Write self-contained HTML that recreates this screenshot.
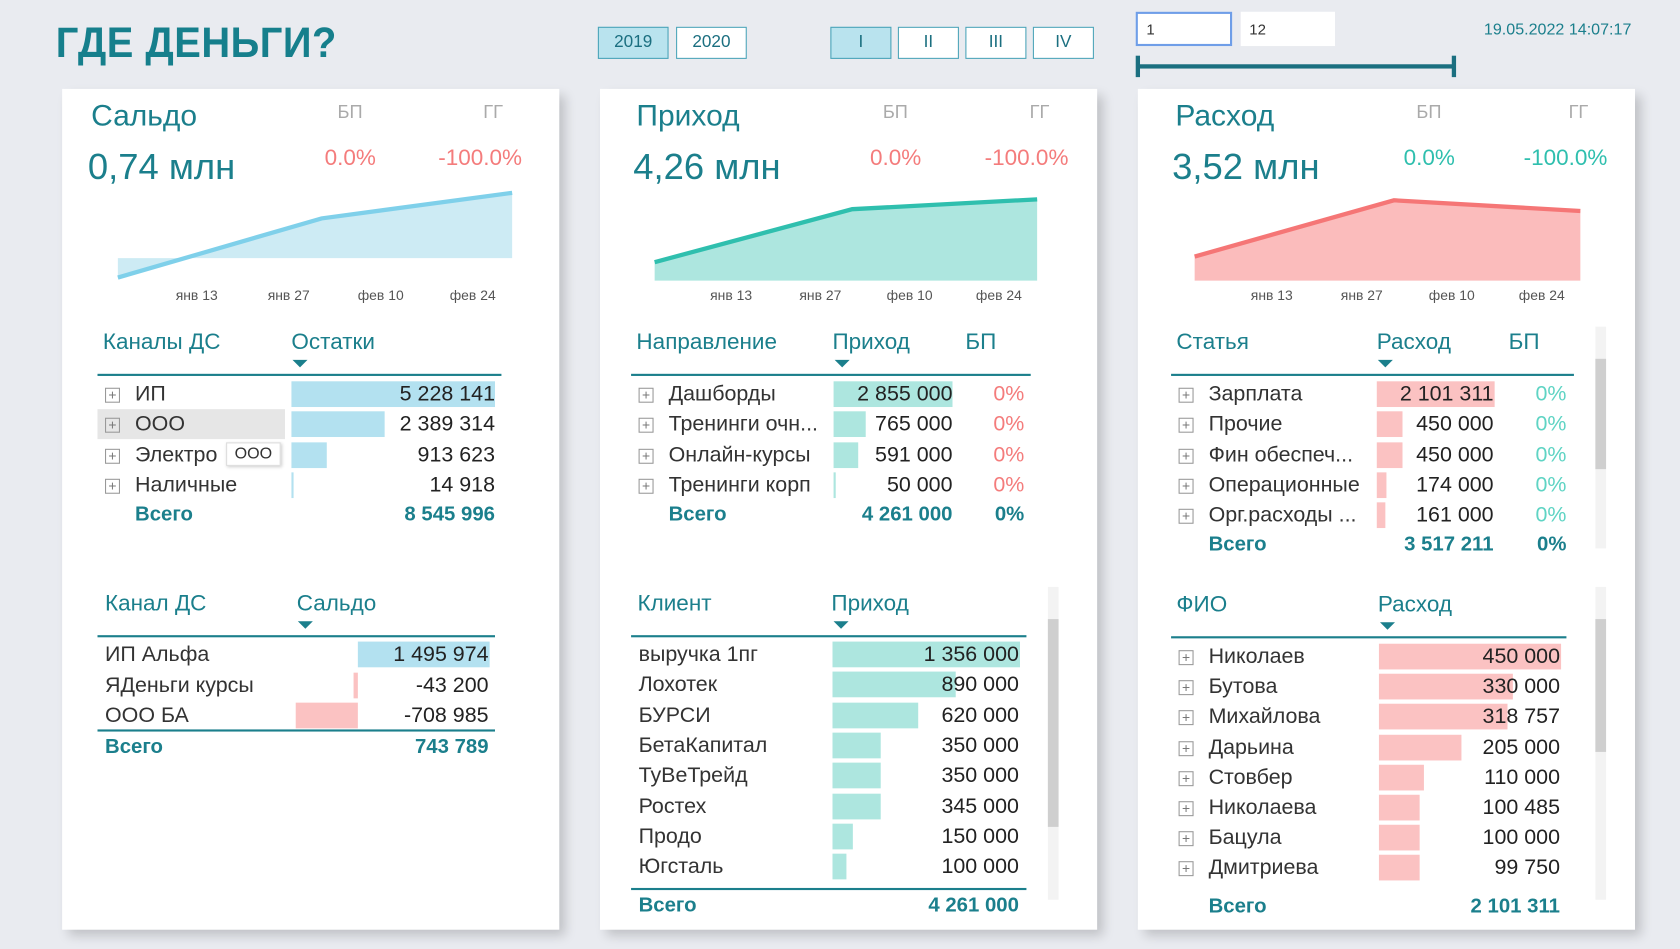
<!DOCTYPE html>
<html><head><meta charset="utf-8">
<style>
html,body{margin:0;padding:0;width:1680px;height:949px;overflow:hidden;background:#e9ebf0;}
#wrap{position:absolute;left:0;top:0;width:1568px;height:886px;transform:scale(1.07143,1.0711);transform-origin:0 0;font-family:"Liberation Sans","DejaVu Sans",sans-serif;}
.abs{position:absolute;white-space:nowrap;}
.card{position:absolute;background:#fff;box-shadow:6px 6px 10px rgba(0,0,0,0.18);}
.btn{position:absolute;height:30px;border:1px solid #4aa3b8;box-sizing:border-box;font-size:16px;color:#1b6f80;text-align:center;line-height:28px;background:#fff;}
.btn.on{background:#b9e3ee;}
.teal{color:#1b7f8c;}
</style></head><body>
<div id="wrap">
<div class="abs teal" style="left:52px;top:18px;font-size:40px;font-weight:bold;transform:scaleX(0.93);transform-origin:0 0;letter-spacing:0.5px;color:#167f8c">ГДЕ ДЕНЬГИ?</div>
<div class="btn on" style="left:558px;top:25px;width:66px">2019</div>
<div class="btn" style="left:631px;top:25px;width:66px">2020</div>
<div class="btn on" style="left:775px;top:25px;width:57px">I</div>
<div class="btn" style="left:838px;top:25px;width:57px">II</div>
<div class="btn" style="left:901px;top:25px;width:57px">III</div>
<div class="btn" style="left:964px;top:25px;width:57px">IV</div>
<div class="abs" style="left:1060px;top:11px;width:90px;height:32px;box-sizing:border-box;border:2px solid #6f9ee8;background:#fff;font-size:14px;line-height:28px;padding-left:8px;color:#333">1</div>
<div class="abs" style="left:1158px;top:11px;width:88px;height:32px;box-sizing:border-box;background:#fff;font-size:14px;line-height:32px;padding-left:8px;color:#333">12</div>
<div class="abs" style="left:1062px;top:60px;width:295px;height:4px;background:#1b6f80"></div>
<div class="abs" style="left:1060px;top:52px;width:4px;height:20px;background:#1b6f80"></div>
<div class="abs" style="left:1355px;top:52px;width:4px;height:20px;background:#1b6f80"></div>
<div class="abs teal" style="left:1385px;top:19px;font-size:15px">19.05.2022 14:07:17</div>

<div class="card" style="left:58px;top:83px;width:464px;height:785px"></div>
<div class="card" style="left:560px;top:83px;width:464px;height:785px"></div>
<div class="card" style="left:1062px;top:83px;width:464px;height:785px"></div>
<svg id="svg" class="abs" style="left:0;top:0" width="1568" height="886"></svg>
</div>
<script>
// ---- sparkline data ----
const sparkDays = [0, 31, 60];
const sparkTickDays = [12, 26, 40, 54];
const sparkTickLabels = ["янв 13", "янв 27", "фев 10", "фев 24"];
const saldoSeries = [-0.22, 0.45, 0.74];
const incomeSeries = [0.75, 2.9, 3.3];
const expenseSeries = [0.9, 3.0, 2.6];
// ---- table data ----
const channelNames = ["ИП", "ООО", "Электро", "Наличные"];
const channelBalances = [5228141, 2389314, 913623, 14918];
const channelTotal = "8 545 996";
const saldoChannels = ["ИП Альфа", "ЯДеньги курсы", "ООО БА"];
const saldoValues = [1495974, -43200, -708985];
const saldoTotal = "743 789";
const directionNames = ["Дашборды", "Тренинги очн...", "Онлайн-курсы", "Тренинги корп"];
const directionIncome = [2855000, 765000, 591000, 50000];
const directionBP = ["0%", "0%", "0%", "0%"];
const directionTotal = "4 261 000";
const clientNames = ["выручка 1пг", "Лохотек", "БУРСИ", "БетаКапитал", "ТуВеТрейд", "Ростех", "Продо", "Югсталь"];
const clientIncome = [1356000, 890000, 620000, 350000, 350000, 345000, 150000, 100000];
const clientTotal = "4 261 000";
const articleNames = ["Зарплата", "Прочие", "Фин обеспеч...", "Операционные", "Орг.расходы ..."];
const articleExpense = [2101311, 450000, 450000, 174000, 161000];
const articleBP = ["0%", "0%", "0%", "0%", "0%"];
const articleTotal = "3 517 211";
const personNames = ["Николаев", "Бутова", "Михайлова", "Дарьина", "Стовбер", "Николаева", "Бацула", "Дмитриева"];
const personExpense = [450000, 330000, 318757, 205000, 110000, 100485, 100000, 99750];
const personTotal = "2 101 311";

const svg = document.getElementById('svg');
const wrap = document.getElementById('wrap');
const NS = 'http://www.w3.org/2000/svg';
const TEAL = '#1b7f8c';
function fmt(v){const s=Math.abs(Math.round(v)).toString().replace(/\B(?=(\d{3})+(?!\d))/g,' ');return (v<0?'-':'')+s;}
function txt(x,y,s,size,color,name,opts){
  opts=opts||{};
  const el=document.createElement('div');
  el.className='abs';
  el.textContent=s;
  el.style.fontSize=size+'px';
  el.style.color=color;
  el.style.lineHeight=(size*1.3)+'px';
  el.style.top=(y-size*0.65)+'px';
  if(opts.bold) el.style.fontWeight='bold';
  if(opts.right){el.style.right=(1568-x)+'px';} else if(opts.center){el.style.left=(x-60)+'px';el.style.width='120px';el.style.textAlign='center';} else el.style.left=x+'px';
  
  
  wrap.appendChild(el);
  return el;
}
function box(x,y,w,h,bg,name,inter){
  const el=document.createElement('div');
  el.className='abs';
  el.style.left=x+'px';el.style.top=y+'px';el.style.width=w+'px';el.style.height=h+'px';el.style.background=bg;
  
  
  wrap.appendChild(el);
  return el;
}
function plus(x,y){
  const el=document.createElement('div');
  el.className='abs';
  el.style.cssText+='left:'+x+'px;top:'+(y-7)+'px;width:12px;height:12px;border:1px solid #999;font-size:13px;line-height:12px;text-align:center;color:#777;';
  el.textContent='+';
  
  
  wrap.appendChild(el);
}
function tri(x,y){
  const el=document.createElement('div');
  el.className='abs';
  el.style.cssText+='left:'+x+'px;top:'+y+'px;width:0;height:0;border-left:7px solid transparent;border-right:7px solid transparent;border-top:7px solid '+TEAL+';';
  
  
  wrap.appendChild(el);
}

// ---- sparklines ----
function spark(cfg, series){
  const xs=d=>cfg.x0+(d-sparkDays[0])/(sparkDays[sparkDays.length-1]-sparkDays[0])*(cfg.x1-cfg.x0);
  const ys=v=>cfg.yZero-v*cfg.k;
  const pts=series.map((v,i)=>[xs(sparkDays[i]),ys(v)]);
  const base=cfg.fillBase;
  const poly=document.createElementNS(NS,'polygon');
  poly.setAttribute('points',[[pts[0][0],base]].concat(pts).concat([[pts[pts.length-1][0],base]]).map(p=>p.join(',')).join(' '));
  poly.setAttribute('fill',cfg.fill);
  
  
  svg.appendChild(poly);
  const line=document.createElementNS(NS,'polyline');
  line.setAttribute('points',pts.map(p=>p.join(',')).join(' '));
  line.setAttribute('fill','none');line.setAttribute('stroke',cfg.line);line.setAttribute('stroke-width','4');
  
  
  svg.appendChild(line);
  sparkTickDays.forEach((d,i)=>{txt(xs(d)+cfg.tickShift,276,sparkTickLabels[i],13,'#555',cfg.name+'-x-tick',{center:true});});
}
spark({name:'saldo-sparkline',x0:110,x1:478,yZero:241,k:82.4,fillBase:241,fill:'#cdebf4',line:'#7fd0ea',tickShift:0},saldoSeries);
spark({name:'income-sparkline',x0:611,x1:968,yZero:262,k:23,fillBase:262,fill:'#ade6df',line:'#2fbfae',tickShift:0},incomeSeries);
spark({name:'expense-sparkline',x0:1115,x1:1475,yZero:262,k:25,fillBase:262,fill:'#fbbcbc',line:'#f57676',tickShift:0},expenseSeries);

// ---- KPI headers ----
function kpi(x, title, value, bpx, ggx, c1, c2){
  txt(x+3,108,title,28,TEAL,'kpi-title');
  txt(bpx+12,105,'БП',17,'#aaa','bp-label');
  txt(ggx+10,105,'ГГ',17,'#aaa','yoy-label');
  txt(x,156,value,34,TEAL,'kpi-value');
  txt(bpx,148,'0.0%',21,c1,'bp-change');
  txt(ggx-32,148,'-100.0%',21,c2,'yoy-change');
}
kpi(82,'Сальдо','0,74 млн',303,441,'#f47c7c','#f47c7c');
kpi(591,'Приход','4,26 млн',812,951,'#f47c7c','#f47c7c');
kpi(1094,'Расход','3,52 млн',1310,1454,'#2fbfae','#2fbfae');

// ---- tables ----
function table(cfg){
  txt(cfg.hx[0],cfg.hy,cfg.headers[0],21,TEAL,'column-header');
  txt(cfg.hx[1],cfg.hy,cfg.headers[1],21,TEAL,'column-header');
  if(cfg.headers[2]) txt(cfg.hx[2],cfg.hy,cfg.headers[2],21,TEAL,'column-header');
  tri(cfg.barX+1,cfg.hy+16);
  box(cfg.ruleX0,cfg.hy+29,cfg.ruleX1-cfg.ruleX0,2,TEAL,'header-rule');
  const max=Math.max(...cfg.values.map(Math.abs));
  cfg.names.forEach((n,i)=>{
    const y=cfg.y0+i*cfg.dy;
    if(cfg.highlight===i) box(cfg.ruleX0,y-14,cfg.barX-cfg.ruleX0-6,28,'#e6e6e6','row-highlight');
    if(cfg.plus) plus(cfg.ruleX0+7,y+1);
    const v=cfg.values[i];
    if(cfg.zeroX!==undefined){
      const w=Math.abs(v)/max*cfg.barW;
      box(v>=0?cfg.zeroX:cfg.zeroX-w,y-12,Math.max(w,1.5),24,v>=0?cfg.barColor:cfg.negColor,'data-bar',false);
    } else {
      box(cfg.barX,y-12,Math.max(v/max*cfg.barW,2),24,cfg.barColor,'data-bar',false);
    }
    txt(cfg.nameX,y,n,20,'#333','row-label');
    txt(cfg.valR,y,fmt(v),20,'#222','row-value',{right:true});
    if(cfg.bp) txt(cfg.bpR,y,cfg.bp[i],20,cfg.bpColor,'row-bp',{right:true});
  });
  const ty=cfg.totalY;
  if(cfg.totalRule) box(cfg.ruleX0,ty-17,cfg.ruleX1-cfg.ruleX0,2,TEAL,'total-rule');
  txt(cfg.totalX,ty,'Всего',19,TEAL,'total-label',{bold:true});
  txt(cfg.valR,ty,cfg.total,19,TEAL,'total-value',{bold:true,right:true});
  if(cfg.bp) txt(cfg.bpR,ty,'0%',19,TEAL,'total-bp',{bold:true,right:true});
}
table({headers:['Каналы ДС','Остатки'],hx:[96,272],hy:320,ruleX0:91,ruleX1:468,barX:272,barW:190,barColor:'#b3e1f0',
  names:channelNames,values:channelBalances,y0:368,dy:28.3,nameX:126,valR:462,plus:true,highlight:1,totalY:481,totalX:126,total:channelTotal});
table({headers:['Канал ДС','Сальдо'],hx:[98,277],hy:564,ruleX0:91,ruleX1:462,barX:277,zeroX:334,barW:123,barColor:'#b3e1f0',negColor:'#fbc2c2',
  names:saldoChannels,values:saldoValues,y0:611,dy:28.5,nameX:98,valR:456,totalRule:true,totalY:698,totalX:98,total:saldoTotal});
table({headers:['Направление','Приход','БП'],hx:[594,777,901],hy:320,ruleX0:589,ruleX1:962,barX:778,barW:111,barColor:'#ade6df',
  names:directionNames,values:directionIncome,bp:directionBP,bpR:956,bpColor:'#f47c7c',y0:368,dy:28.3,nameX:624,valR:889,plus:true,totalY:481,totalX:624,total:directionTotal});
table({headers:['Клиент','Приход'],hx:[595,776],hy:564,ruleX0:589,ruleX1:958,barX:777,barW:175,barColor:'#ade6df',
  names:clientNames,values:clientIncome,y0:611,dy:28.3,nameX:596,valR:951,totalRule:true,totalY:846,totalX:596,total:clientTotal});
table({headers:['Статья','Расход','БП'],hx:[1098,1285,1408],hy:320,ruleX0:1093,ruleX1:1469,barX:1285,barW:110,barColor:'#fbc2c2',
  names:articleNames,values:articleExpense,bp:articleBP,bpR:1462,bpColor:'#5fd4c4',y0:368,dy:28.3,nameX:1128,valR:1394,plus:true,totalY:509,totalX:1128,total:articleTotal});
table({headers:['ФИО','Расход'],hx:[1098,1286],hy:565,ruleX0:1093,ruleX1:1462,barX:1287,barW:170,barColor:'#fbc2c2',
  names:personNames,values:personExpense,y0:613,dy:28.2,nameX:1128,valR:1456,plus:true,totalY:847,totalX:1128,total:personTotal});

// tooltip
const tip=txt(211,423,'ООО',15,'#333','hover-tooltip');
tip.style.background='#fff';tip.style.border='1px solid #ddd';tip.style.padding='0 7px';tip.style.boxShadow='1px 1px 3px rgba(0,0,0,0.2)';
// scrollbars
box(1489,305,10,207,'#f3f3f3','expense-article-scrollbar',true);
box(1489,335,10,103,'#cfcfcf','scrollbar-thumb',true);
box(978,548,10,292,'#f3f3f3','client-scrollbar',true);
box(978,578,10,194,'#cfcfcf','scrollbar-thumb',true);
box(1489,548,10,292,'#f3f3f3','person-scrollbar',true);
box(1489,578,10,124,'#cfcfcf','scrollbar-thumb',true);
</script>
</body></html>
